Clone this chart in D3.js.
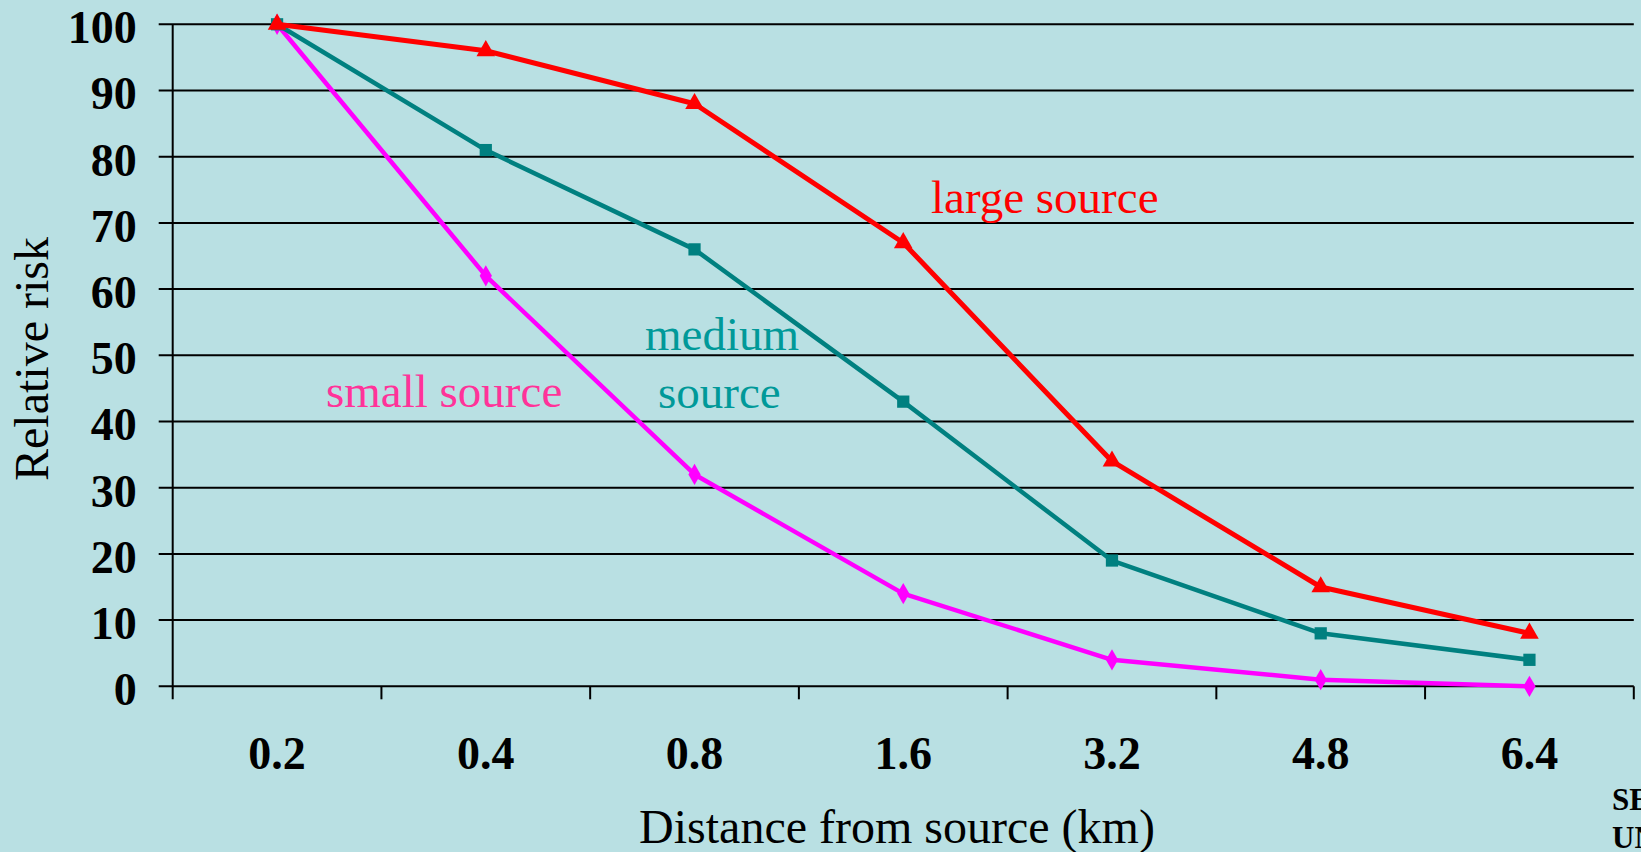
<!DOCTYPE html>
<html>
<head>
<meta charset="utf-8">
<script src="https://cdn.jsdelivr.net/npm/d3@7"></script>
<style>
  html, body { margin: 0; padding: 0; background: #B9E0E3; overflow: hidden; }
  svg { display: block; font-family: "Liberation Serif", "Times New Roman", serif; }
</style>
</head>
<body>
<div id="chart"></div>
<script>
// chart values
var distances = ["0.2", "0.4", "0.8", "1.6", "3.2", "4.8", "6.4"];
var largeSource  = [100, 96, 88, 67, 34, 15, 8];
var mediumSource = [100, 81, 66, 43, 19, 8, 4];
var smallSource  = [100, 62, 32, 14, 4, 1, 0];
var yTicks = [0, 10, 20, 30, 40, 50, 60, 70, 80, 90, 100];

var W = 1641, H = 852;
var margin = {top: 24.3, right: 7.2, bottom: 165.7, left: 172.7};
var _width = W - margin.left - margin.right;
var _height = H - margin.top - margin.bottom;

var svg = d3.select("#chart").append("svg")
  .attr("width", W)
  .attr("height", H);

svg.append("rect").attr("width", W).attr("height", H).attr("fill", "#B9E0E3");

var g = svg.append("g")
  .attr("transform", "translate(" + margin.left + "," + margin.top + ")");

var x = d3.scaleBand().domain(distances).range([0, _width]);
var y = d3.scaleLinear().domain([0, 100]).range([_height, 0]);

// horizontal gridlines (stick out 14px left of the axis)
g.selectAll(".grid").data(yTicks).enter().append("line")
  .attr("class", "grid")
  .attr("x1", -14).attr("x2", _width)
  .attr("y1", function(d) { return y(d); })
  .attr("y2", function(d) { return y(d); })
  .attr("stroke", "#000").attr("stroke-width", 2);

// y axis labels
var yAxis = g.append("g")
  .call(d3.axisLeft(y).tickValues(yTicks).tickSize(0).tickPadding(36));
yAxis.select(".domain").remove();
yAxis.selectAll("text")
  .attr("dy", "0.4em")
  .style("font-family", "'Liberation Serif', 'Times New Roman', serif")
  .style("font-size", "46px").style("font-weight", "bold").attr("fill", "#000");

// y axis line
g.append("line")
  .attr("x1", 0).attr("x2", 0).attr("y1", 0).attr("y2", _height + 13)
  .attr("stroke", "#000").attr("stroke-width", 2);

// x axis: ticks at category boundaries
var bounds = distances.map(function(d) { return x(d); }).concat([x.range()[1]]);
g.selectAll(".xtick").data(bounds.slice(1)).enter().append("line")
  .attr("class", "xtick")
  .attr("x1", function(d) { return d; }).attr("x2", function(d) { return d; })
  .attr("y1", _height).attr("y2", _height + 13)
  .attr("stroke", "#000").attr("stroke-width", 2);

var xAxis = g.append("g")
  .attr("transform", "translate(0," + _height + ")")
  .call(d3.axisBottom(x).tickSize(0).tickPadding(0));
xAxis.select(".domain").remove();
xAxis.selectAll("text")
  .attr("y", 83).attr("dy", null)
  .style("font-family", "'Liberation Serif', 'Times New Roman', serif")
  .style("font-size", "46px").style("font-weight", "bold").attr("fill", "#000");

var cx = function(d, i) { return x(distances[i]) + x.bandwidth() / 2; };

var line = d3.line()
  .x(function(d, i) { return cx(d, i); })
  .y(function(d) { return y(d); });

var series = [
  {name: "small",  values: smallSource,  color: "#FF00FF", symbol: d3.symbolDiamond, size: 130, width: 4.5},
  {name: "medium", values: mediumSource, color: "#008080", symbol: d3.symbolSquare,  size: 150, width: 4.5},
  {name: "large",  values: largeSource,  color: "#FF0000", symbol: d3.symbolTriangle, size: 150, width: 5}
];

series.forEach(function(s) {
  g.append("path")
    .datum(s.values)
    .attr("d", line)
    .attr("fill", "none")
    .attr("stroke", s.color)
    .attr("stroke-width", s.width)
    .attr("stroke-linejoin", "round");

  g.selectAll(".m-" + s.name).data(s.values).enter().append("path")
    .attr("class", "m-" + s.name)
    .attr("transform", function(d, i) { return "translate(" + cx(d, i) + "," + y(d) + ")"; })
    .attr("d", d3.symbol().type(s.symbol).size(s.size))
    .attr("fill", s.color);
});

// annotations
var serif = "'Liberation Serif', 'Times New Roman', serif";
function note(txt, px, py, color) {
  svg.append("text").attr("x", px).attr("y", py)
    .attr("fill", color)
    .style("font-family", serif).style("font-size", "47px")
    .text(txt);
}
note("large source", 931, 213, "#FF0000");
note("medium", 645, 350, "#009999");
note("source", 658, 408, "#009999");
note("small source", 326, 407, "#FF3399");

// axis titles
svg.append("text")
  .attr("x", 897).attr("y", 843)
  .attr("text-anchor", "middle")
  .style("font-family", serif).style("font-size", "48px")
  .text("Distance from source (km)");

svg.append("text")
  .attr("transform", "translate(48,359) rotate(-90)")
  .attr("text-anchor", "middle")
  .style("font-family", serif).style("font-size", "48px")
  .text("Relative risk");

// clipped footnote at the bottom right corner (cut off in the original too)
svg.append("text").attr("x", 1612).attr("y", 810)
  .style("font-family", serif).style("font-size", "31px").style("font-weight", "bold")
  .text("SE");
svg.append("text").attr("x", 1612).attr("y", 848)
  .style("font-family", serif).style("font-size", "31px").style("font-weight", "bold")
  .text("UN");
</script>
</body>
</html>
